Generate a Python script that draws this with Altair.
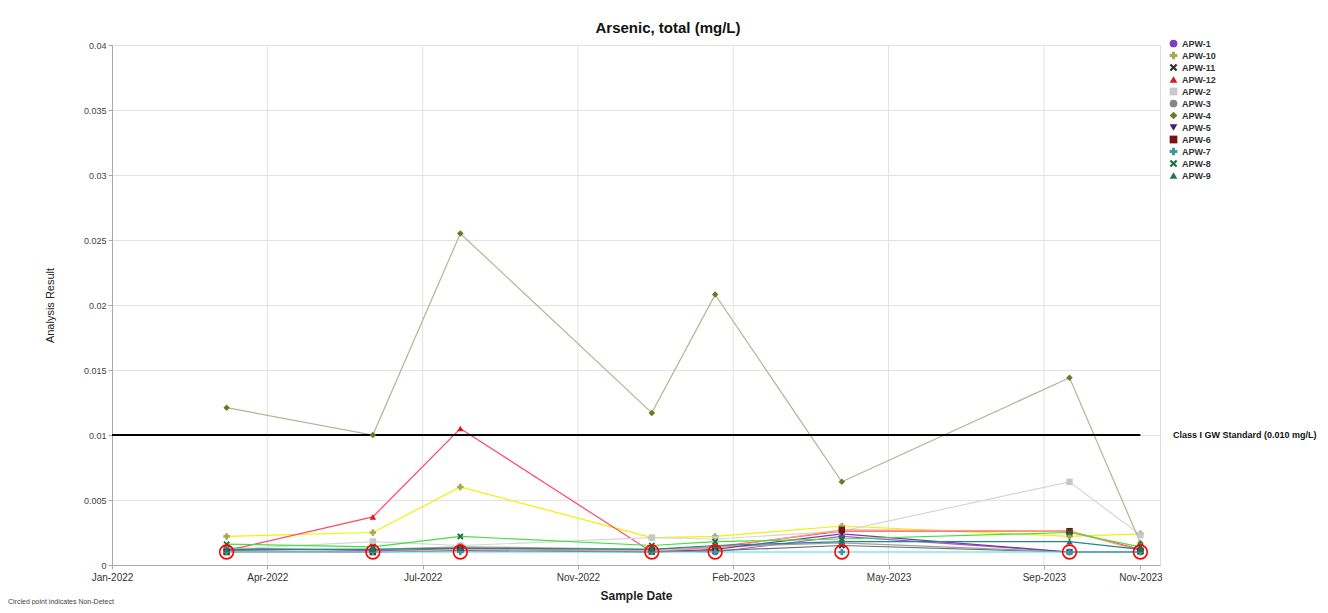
import altair as alt
import pandas as pd

dates = ["2022-03-18", "2022-06-23", "2022-08-20", "2022-12-25",
         "2023-02-05", "2023-04-30", "2023-09-28", "2023-11-14"]

wells = ["APW-1", "APW-10", "APW-11", "APW-12", "APW-2", "APW-3",
         "APW-4", "APW-5", "APW-6", "APW-7", "APW-8", "APW-9"]

apw1 = [0.0013, 0.0011, 0.0012, 0.0011, 0.0010, 0.0022, 0.0010, 0.0010]
apw10 = [0.0022, 0.0025, 0.0060, 0.0021, 0.0022, 0.0030, 0.0022, 0.0024]
apw11 = [0.0011, 0.0010, 0.0013, 0.0010, 0.0011, 0.0015, 0.0010, 0.0010]
apw12 = [0.0011, 0.0037, 0.0105, 0.0010, 0.0014, 0.0026, 0.0026, 0.0012]
apw2 = [0.0012, 0.0018, 0.0015, 0.0021, 0.0020, 0.0026, 0.0064, 0.0023]
apw3 = [0.0012, 0.0012, 0.0014, 0.0012, 0.0014, 0.0017, 0.0010, 0.0010]
apw4 = [0.0121, 0.0100, 0.0255, 0.0117, 0.0208, 0.0064, 0.0144, 0.0017]
apw5 = [0.0010, 0.0010, 0.0011, 0.0010, 0.0012, 0.0024, 0.0010, 0.0010]
apw6 = [0.0010, 0.0010, 0.0012, 0.0011, 0.0013, 0.0027, 0.0026, 0.0011]
apw7 = [0.0010, 0.0010, 0.0010, 0.0010, 0.0010, 0.0010, 0.0010, 0.0010]
apw8 = [0.0016, 0.0014, 0.0022, 0.0015, 0.0018, 0.0020, 0.0025, 0.0014]
apw9 = [0.0012, 0.0012, 0.0013, 0.0012, 0.0015, 0.0018, 0.0018, 0.0012]

series_values = [apw1, apw10, apw11, apw12, apw2, apw3, apw4, apw5, apw6, apw7, apw8, apw9]

marker_colors = ["#7b3fc4", "#a8a850", "#303030", "#e01818", "#c8c8c8", "#858585",
                 "#6b7a22", "#4b1a6b", "#7a1212", "#3a9a9a", "#1e6e3e", "#2a6e6a"]
line_colors = ["#b050d0", "#f2f200", "#707070", "#ff4a60", "#d6d6d6", "#a0a0a0",
               "#b4b494", "#7040a0", "#ffa080", "#40e0e0", "#40e040", "#208888"]
X_PATH = "M-0.6,-1L0,-0.4L0.6,-1L1,-0.6L0.4,0L1,0.6L0.6,1L0,0.4L-0.6,1L-1,0.6L-0.4,0L-1,-0.6Z"
shapes = ["circle", "cross", X_PATH, "triangle-up", "square", "circle",
          "diamond", "triangle-down", "square", "cross", X_PATH, "triangle-up"]

nd_values = [0.0010] * 8
standard_value = 0.010
standard_label = "Class I GW Standard (0.010 mg/L)"

tick_dates = ["2022-01-01", "2022-04-14", "2022-07-26", "2022-11-06",
              "2023-02-17", "2023-05-31", "2023-09-11", "2023-11-14"]
grid_dates = tick_dates[1:-1]
y_ticks = [0, 0.005, 0.01, 0.015, 0.02, 0.025, 0.03, 0.035, 0.04]

rows = []
for w, vals, lc in zip(wells, series_values, line_colors):
    for d, v in zip(dates, vals):
        rows.append({"well": w, "date": d, "value": v, "lc": lc})
df = pd.DataFrame(rows)
nd_df = pd.DataFrame({"date": dates, "value": nd_values})
grid_df = pd.DataFrame({"date": grid_dates})
std_df = pd.DataFrame({"start": [tick_dates[0]], "end": [tick_dates[-1]], "value": [standard_value],
                       "label": [standard_label]})

W, H = 1048, 520
xscale = alt.Scale(domain=["2022-01-01", "2023-11-27"])
yscale = alt.Scale(domain=[0, 0.04], nice=False)

xenc = alt.X("date:T", scale=xscale,
             axis=alt.Axis(values=tick_dates, format="%b-%Y", title="Sample Date",
                           grid=False, labelFontSize=10, labelColor="#333", labelFlush=False,
                           titleFontSize=12, titleFontWeight="bold", titleColor="#222",
                           titlePadding=8, domainColor="#aaa", tickColor="#aaa",
                           labelPadding=3, tickSize=4))
yenc = alt.Y("value:Q", scale=yscale,
             axis=alt.Axis(values=y_ticks, format="~g", title="Analysis Result",
                           grid=True, gridColor="#e2e2e2", labelFontSize=9, labelColor="#444",
                           titleFontSize=11, titleFontWeight="normal", titleColor="#222",
                           titlePadding=28, domainColor="#aaa", tickColor="#aaa", tickSize=4))

grid = alt.Chart(grid_df).mark_rule(color="#e2e2e2", strokeWidth=1).encode(
    x=alt.X("date:T", scale=xscale))

lines = alt.Chart(df).mark_line(strokeWidth=1.2).encode(
    x=xenc, y=yenc, detail="well:N",
    color=alt.Color("lc:N", scale=None))

std = alt.Chart(std_df).mark_rule(color="#000", strokeWidth=2).encode(
    x=alt.X("start:T", scale=xscale), x2="end:T", y=alt.Y("value:Q", scale=yscale))

std_text = alt.Chart(std_df).mark_text(align="left", baseline="middle", fontSize=9,
                                        fontWeight="bold", color="#111").encode(
    x=alt.value(W + 13), y=alt.Y("value:Q", scale=yscale), text="label:N")

points = alt.Chart(df).mark_point(filled=True, size=42, opacity=1).encode(
    x=alt.X("date:T", scale=xscale), y=alt.Y("value:Q", scale=yscale),
    color=alt.Color("well:N", scale=alt.Scale(domain=wells, range=marker_colors),
                    legend=alt.Legend(title=None, orient="none", legendX=W + 9, legendY=-6,
                                      labelFontSize=9, labelFontWeight="bold", labelColor="#333",
                                      symbolSize=60, rowPadding=2, labelOffset=4,
                                      symbolStrokeWidth=0)),
    shape=alt.Shape("well:N", scale=alt.Scale(domain=wells, range=shapes)))

nd = alt.Chart(nd_df).mark_point(shape="circle", filled=False, size=190, color="#ff0000",
                                 strokeWidth=1.6, opacity=1).encode(
    x=alt.X("date:T", scale=xscale), y=alt.Y("value:Q", scale=yscale))

foot = alt.Chart(pd.DataFrame({"t": ["Circled point indicates Non-Detect"]})).mark_text(
    align="left", baseline="bottom", fontSize=7, color="#444").encode(
    x=alt.value(-104), y=alt.value(H + 40), text="t:N")

chart = alt.layer(grid, lines, std, std_text, points, nd, foot).properties(
    width=W, height=H,
    title=alt.TitleParams("Arsenic, total (mg/L)", fontSize=15, fontWeight="bold",
                          color="#111", dx=32, offset=3),
    autosize=alt.AutoSizeParams(type="none"),
    padding={"left": 104, "top": 37, "right": 160, "bottom": 40},
).configure_view(stroke=None).configure(font="Arial")

chart.save("out.html", embed_options={"renderer": "svg", "actions": False})
